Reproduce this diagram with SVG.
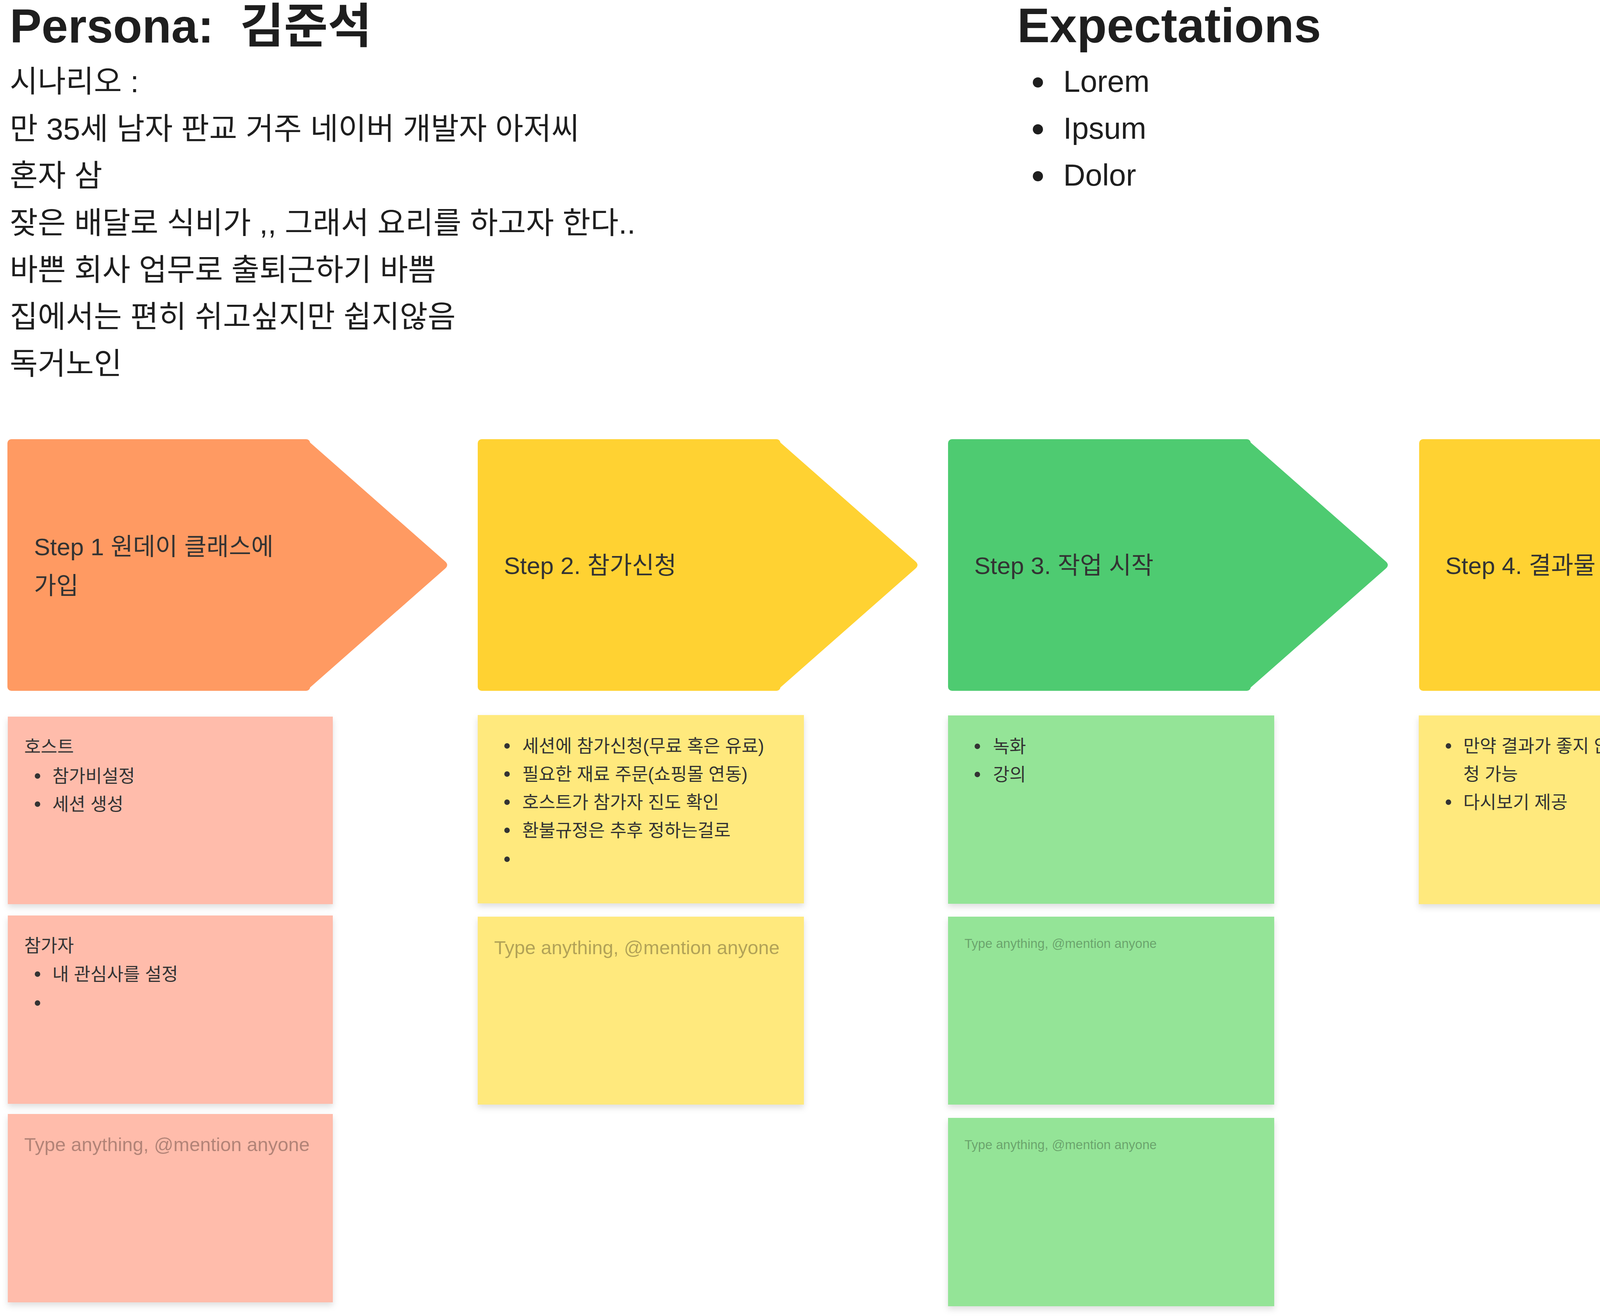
<svg xmlns="http://www.w3.org/2000/svg" width="6830" height="3368" viewBox="0 0 6830 3368">
<defs>
<style>
text{font-family:"Liberation Sans","Noto Sans CJK KR",sans-serif;}
.h{font-size:122px;font-weight:700;fill:#1e1e1e;white-space:pre;}
.he{font-size:125px;}
.b{font-size:78px;fill:#1e1e1e;}
.st{font-size:62px;fill:#333;}
.nt{font-size:46px;fill:#333;}
.ph{font-size:49px;fill:#000;fill-opacity:.3;}
.phs{font-size:33px;fill:#000;fill-opacity:.3;}
.bul{fill:#333;}
.bk{fill:#1e1e1e;}
.or{fill:#FF9A62;}
.ye{fill:#FFD232;}
.gr{fill:#4ECB71;}
.bl{fill:#86B6FF;}
.nsal{fill:#FFBCAB;}
.nyel{fill:#FFE97D;}
.ngr{fill:#94E497;}
</style>
<filter id="sh" x="-5%" y="-5%" width="110%" height="115%">
<feDropShadow dx="0" dy="8" stdDeviation="8" flood-color="#000" flood-opacity="0.13"/>
</filter>
<path id="arrowHead" d="M765,1138 Q765,1124 775.5,1133.2 L1120.5,1436.8 Q1131,1446 1120.5,1455.2 L775.5,1758.8 Q765,1768 765,1754 Z"/>
</defs>
<rect width="6830" height="3368" fill="#fff"/>

<g id="persona">
<text class="h" x="25" y="109">Persona:  김준석</text>
<text class="b" x="25" y="236">시나리오 :</text>
<text class="b" x="25" y="357">만 35세 남자 판교 거주 네이버 개발자 아저씨</text>
<text class="b" x="25" y="477">혼자 삼</text>
<text class="b" x="25" y="598">잦은 배달로 식비가 ,, 그래서 요리를 하고자 한다..</text>
<text class="b" x="25" y="718">바쁜 회사 업무로 출퇴근하기 바쁨</text>
<text class="b" x="25" y="838">집에서는 편히 쉬고싶지만 쉽지않음</text>
<text class="b" x="25" y="958">독거노인</text>
</g>

<g id="expectations">
<text class="h he" x="2604" y="108">Expectations</text>
<circle class="bk" cx="2657" cy="211" r="13"/>
<text class="b" x="2722" y="235">Lorem</text>
<circle class="bk" cx="2657" cy="331" r="13"/>
<text class="b" x="2722" y="355">Ipsum</text>
<circle class="bk" cx="2657" cy="451" r="13"/>
<text class="b" x="2722" y="475">Dolor</text>
</g>

<g id="connectors"></g>

<g id="step1">
<rect class="or" x="19" y="1124" width="775" height="644" rx="10"/>
<use href="#arrowHead" class="or" x="19"/>
<text class="st" x="87" y="1421">Step 1 원데이 클래스에</text>
<text class="st" x="87" y="1521">가입</text>
</g>
<g id="step2">
<rect class="ye" x="1223" y="1124" width="775" height="644" rx="10"/>
<use href="#arrowHead" class="ye" x="1223"/>
<text class="st" x="1290" y="1469">Step 2. 참가신청</text>
</g>
<g id="step3">
<rect class="gr" x="2427" y="1124" width="775" height="644" rx="10"/>
<use href="#arrowHead" class="gr" x="2427"/>
<text class="st" x="2494" y="1469">Step 3. 작업 시작</text>
</g>
<g id="step4">
<rect class="ye" x="3633" y="1124" width="775" height="644" rx="10"/>
<use href="#arrowHead" class="ye" x="3633"/>
<text class="st" x="3700" y="1469">Step 4. 결과물 제출</text>
</g>
<g id="step5">
<path class="or" d="M4845,1124 H5600 L5931,1436 Q5941,1446 5931,1456 L5600,1768 H4845 Q4835,1768 4835,1758 V1134 Q4835,1124 4845,1124 Z"/>
<text class="st" x="4900" y="1469">Step 5. 후기남기기</text>
</g>
<g id="end-diamond">
<path class="bl" d="M6417,1130 Q6425,1124 6433,1130 L6822,1440 Q6830,1446 6822,1452 L6433,1762 Q6425,1768 6417,1762 L6028,1452 Q6020,1446 6028,1440 Z"/>
</g>

<g id="note-1-1">
<rect class="nsal" x="20" y="1834" width="832" height="480" filter="url(#sh)"/>
<text class="nt" x="62" y="1927">호스트</text>
<circle class="bul" cx="96" cy="1986" r="7"/>
<text class="nt" x="134" y="2002">참가비설정</text>
<circle class="bul" cx="96" cy="2058" r="7"/>
<text class="nt" x="134" y="2074">세션 생성</text>
</g>
<g id="note-1-2">
<rect class="nsal" x="20" y="2343" width="832" height="482" filter="url(#sh)"/>
<text class="nt" x="62" y="2436">참가자</text>
<circle class="bul" cx="96" cy="2493" r="7"/>
<text class="nt" x="134" y="2509">내 관심사를 설정</text>
<circle class="bul" cx="96" cy="2567" r="7"/>
</g>
<g id="note-1-3">
<rect class="nsal" x="20" y="2851" width="832" height="482" filter="url(#sh)"/>
<text class="ph" x="62" y="2946">Type anything, @mention anyone</text>
</g>

<g id="note-2-1">
<rect class="nyel" x="1223" y="1830" width="835" height="482" filter="url(#sh)"/>
<circle class="bul" cx="1298" cy="1909" r="7"/>
<text class="nt" x="1337" y="1925">세션에 참가신청(무료 혹은 유료)</text>
<circle class="bul" cx="1298" cy="1981" r="7"/>
<text class="nt" x="1337" y="1997">필요한 재료 주문(쇼핑몰 연동)</text>
<circle class="bul" cx="1298" cy="2053" r="7"/>
<text class="nt" x="1337" y="2069">호스트가 참가자 진도 확인</text>
<circle class="bul" cx="1298" cy="2125" r="7"/>
<text class="nt" x="1337" y="2141">환불규정은 추후 정하는걸로</text>
<circle class="bul" cx="1298" cy="2199" r="7"/>
</g>
<g id="note-2-2">
<rect class="nyel" x="1223" y="2346" width="835" height="481" filter="url(#sh)"/>
<text class="ph" x="1265" y="2442">Type anything, @mention anyone</text>
</g>

<g id="note-3-1">
<rect class="ngr" x="2427" y="1831" width="835" height="482" filter="url(#sh)"/>
<circle class="bul" cx="2502" cy="1910" r="7"/>
<text class="nt" x="2542" y="1926">녹화</text>
<circle class="bul" cx="2502" cy="1982" r="7"/>
<text class="nt" x="2542" y="1998">강의</text>
</g>
<g id="note-3-2">
<rect class="ngr" x="2427" y="2346" width="835" height="481" filter="url(#sh)"/>
<text class="phs" x="2469" y="2426">Type anything, @mention anyone</text>
</g>
<g id="note-3-3">
<rect class="ngr" x="2427" y="2861" width="835" height="482" filter="url(#sh)"/>
<text class="phs" x="2469" y="2941">Type anything, @mention anyone</text>
</g>

<g id="note-4-1">
<rect class="nyel" x="3632" y="1831" width="836" height="483" filter="url(#sh)"/>
<circle class="bul" cx="3708" cy="1909" r="7"/>
<text class="nt" x="3746" y="1925">만약 결과가 좋지 않다면 재수강 신</text>
<text class="nt" x="3746" y="1997">청 가능</text>
<circle class="bul" cx="3708" cy="2053" r="7"/>
<text class="nt" x="3746" y="2069">다시보기 제공</text>
</g>

<g id="note-5-1">
<rect class="nsal" x="4838" y="1828" width="836" height="513" filter="url(#sh)"/>
<circle class="bul" cx="4914" cy="1907" r="7"/>
<text class="nt" x="4953" y="1923">후기 남기기</text>
<circle class="bul" cx="4914" cy="1979" r="7"/>
<text class="nt" x="4953" y="1995">월 별로 수강 이력과 결과물로 제출</text>
<text class="nt" x="4953" y="2067">한 사진이나 영상을 묶어 Recap 만</text>
<text class="nt" x="4953" y="2139">들기</text>
<circle class="bul" cx="4914" cy="2195" r="7"/>
<text class="nt" x="4953" y="2211">Recap을 포스팅 할 수 있도록</text>
<text class="nt" x="4953" y="2283">SNS 연동</text>
</g>
<g id="note-5-2">
<rect class="nsal" x="4838" y="2375" width="482" height="481" filter="url(#sh)"/>
<text class="phs" x="4881" y="2452">Type anything, @mention</text>
<text class="phs" x="4881" y="2500">anyone</text>
</g>
</svg>
